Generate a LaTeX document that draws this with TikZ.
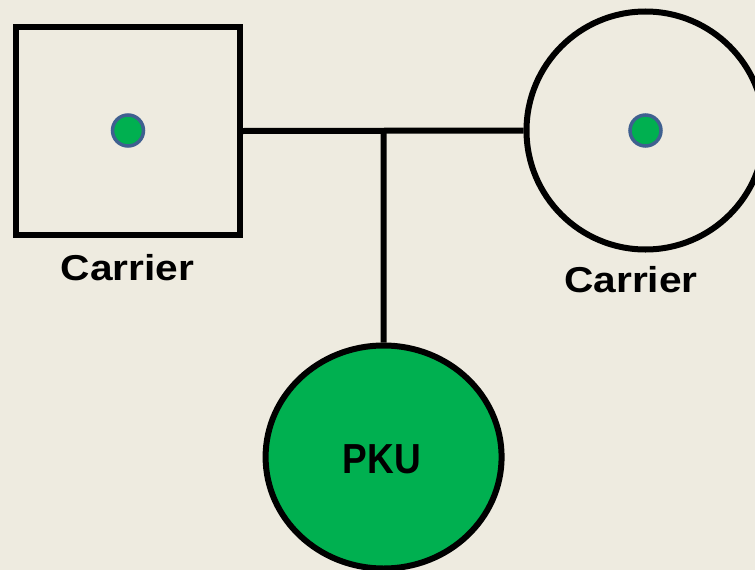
\documentclass[tikz,border=0pt]{standalone}
\usepackage{fontspec}
\setmainfont{Liberation Sans}
\usetikzlibrary{shapes.geometric}
\definecolor{bgc}{HTML}{EEEBE0}
\definecolor{pkugreen}{HTML}{00B050}
\definecolor{dotblue}{HTML}{3F6090}
\begin{document}
\begin{tikzpicture}[x=1pt,y=-1pt,
  member/.style={draw=black,line width=6pt,inner sep=0pt},
  carrierdot/.style={circle,draw=dotblue,fill=pkugreen,line width=3.5pt,minimum size=31pt,inner sep=0pt},
  link/.style={draw=black,line width=6pt},
  lbl/.style={font=\bfseries\fontsize{36}{42}\selectfont,inner sep=0pt,anchor=base,xscale=1.13}]
\fill[bgc] (0,0) rectangle (755,570);
\useasboundingbox (0,0) rectangle (755,570);
\node[member,rectangle,minimum width=224pt,minimum height=208pt] (father) at (128,131) {};
\node[member,circle,minimum size=238pt] (mother) at (645.5,130.5) {};
\node[member,ellipse,fill=pkugreen,minimum width=236pt,minimum height=223pt] (child) at (383.6,457) {};
\node[carrierdot] (fdot) at (128,130.5) {};
\node[carrierdot] (mdot) at (645.5,130.5) {};
\coordinate (junction) at (383.7,130.7);
\draw[link] (father.east) -- (mother.west);
\draw[link] (junction) -- (child.north);
\node[lbl] (flabel) at (127.5,280) {Carrier};
\node[lbl] (mlabel) at (631,292) {Carrier};
\node[lbl,font=\bfseries\fontsize{42}{48}\selectfont,xscale=0.78] (ptext) at (382,473) {PKU};
\end{tikzpicture}
\end{document}
